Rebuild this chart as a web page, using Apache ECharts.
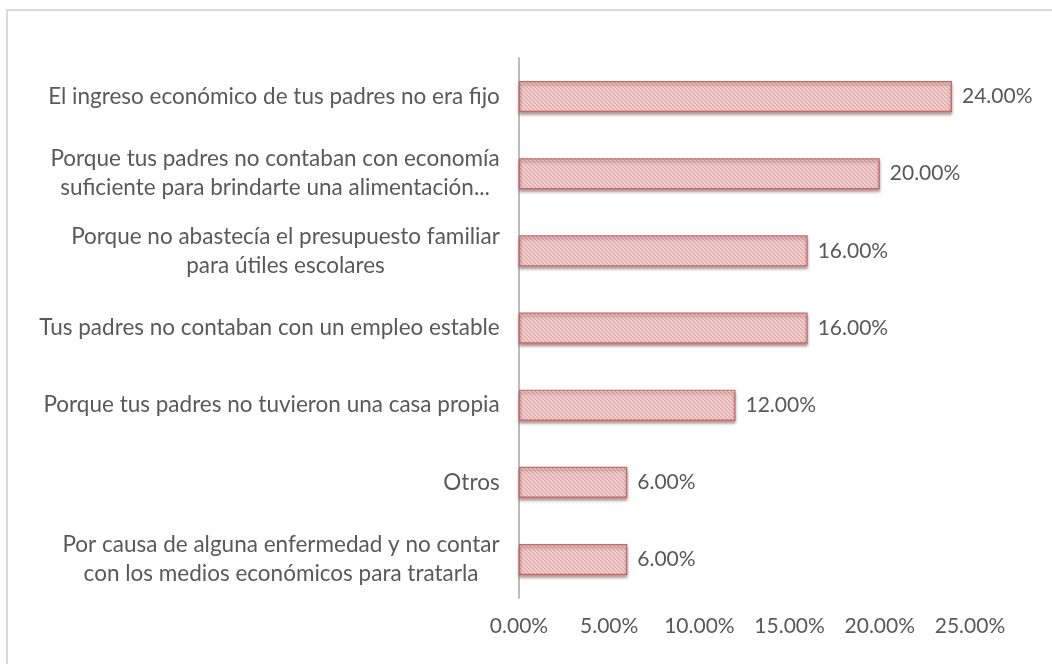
<!DOCTYPE html>
<html><head><meta charset="utf-8">
<script src="https://cdn.jsdelivr.net/npm/echarts@6/dist/echarts.min.js"></script>
<style>html,body{margin:0;padding:0;background:#fff}#c{width:1052px;height:664px}</style>
</head><body><div id="c"></div>
<script>
const categories = [
  "El ingreso económico de tus padres no era fijo",
  "Porque tus padres no contaban con economía\nsuficiente para brindarte una alimentación...",
  "Porque no abastecía el presupuesto familiar\npara útiles escolares",
  "Tus padres no contaban con un empleo estable",
  "Porque tus padres no tuvieron una casa propia",
  "Otros",
  "Por causa de alguna enfermedad y no contar\ncon los medios económicos para tratarla"
];
const values = [24, 20, 16, 16, 12, 6, 6];
const tickValues = [0, 5, 10, 15, 20, 25];

const FONT = 'Lato';
const FS = 22.5;
const NFS = 21;
const mctx = document.createElement('canvas').getContext('2d');
mctx.font = FS + 'px ' + FONT;
function widest(s){ return Math.max(...s.split('\n').map(l => mctx.measureText(l).width)); }

// hatch pattern
const pc = document.createElement('canvas');
pc.width = 4; pc.height = 4;
const px = pc.getContext('2d');
px.fillStyle = '#f4d2d2'; px.fillRect(0,0,4,4);
px.strokeStyle = '#d9a3a3'; px.lineWidth = 1.1;
for (let k = -2; k <= 2; k++) { px.beginPath(); px.moveTo(k*4, 0); px.lineTo(k*4+4, 4); px.stroke(); }

const rich = {};
categories.forEach((c, i) => {
  rich['r' + i] = { width: Math.ceil(widest(c)) + 2, align: 'center', fontFamily: FONT, fontSize: FS, color: '#595959', lineHeight: 29 };
});

const chart = echarts.init(document.getElementById('c'));
chart.setOption({
  backgroundColor: '#fff',
  animation: false,
  graphic: [{ type: 'rect', shape: { x: 7, y: 10, width: 1100, height: 700 }, style: { fill: 'none', stroke: '#d9d9d9', lineWidth: 2 } }],
  grid: { left: 519, right: 82, top: 58, bottom: 66 },
  xAxis: {
    type: 'value', min: 0, max: 25, interval: 5,
    axisLine: { show: false }, axisTick: { show: false }, splitLine: { show: false },
    axisLabel: { margin: 18, color: '#595959', fontFamily: FONT, fontSize: NFS,
      formatter: v => v.toFixed(2) + '%' }
  },
  yAxis: {
    type: 'category', data: categories, inverse: true,
    axisLine: { show: true, lineStyle: { color: '#a6a6a6', width: 1.5 } },
    axisTick: { show: false },
    axisLabel: { margin: 18, color: '#595959', fontFamily: FONT, fontSize: FS,
      formatter: (v, i) => '{r' + i + '|' + v + '}', rich: rich }
  },
  series: [{
    type: 'bar', data: values, barWidth: 31,
    itemStyle: { color: { image: pc, repeat: 'repeat' }, borderColor: '#c96767', borderWidth: 1.2,
      shadowColor: 'rgba(110,60,60,0.55)', shadowOffsetY: 2.5, shadowBlur: 3 },
    label: { show: true, position: 'right', distance: 10, color: '#595959', fontFamily: FONT, fontSize: NFS,
      formatter: p => p.value.toFixed(2) + '%' }
  }]
});
</script></body></html>
